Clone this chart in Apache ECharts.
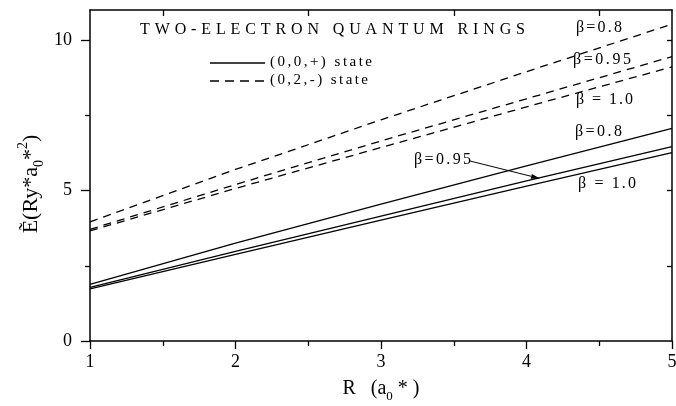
<!DOCTYPE html>
<html>
<head>
<meta charset="utf-8">
<script src="https://cdn.jsdelivr.net/npm/echarts@6/dist/echarts.min.js"></script>
<style>html,body{margin:0;padding:0;background:#fff;}#c{width:676px;height:406px;}</style>
</head>
<body>
<div id="c"></div>
<script>
const R = [1, 2, 3, 4, 5];
const solid08 = [1.88, 3.25, 4.55, 5.82, 7.07];
const solid095 = [1.78, 2.98, 4.15, 5.32, 6.46];
const solid10 = [1.73, 2.88, 4.02, 5.15, 6.26];
const dash08 = [3.96, 5.70, 7.35, 8.95, 10.53];
const dash095 = [3.71, 5.20, 6.65, 8.05, 9.45];
const dash10 = [3.66, 5.07, 6.43, 7.78, 9.11];
const yMajorTicks = [0, 5, 10];
const yMinorTicks = [2.5, 7.5];
const yRightTicks = [2.5, 5, 7.5, 10];
const xTopTicks = [1.5, 2.5, 3.5, 4.5];

const FONT = '"Liberation Serif", "Times New Roman", serif';
const mctx = document.createElement('canvas').getContext('2d');
function spaced(str, x0, x1, yc, size) {
  mctx.font = size + 'px ' + FONT;
  const chars = Array.from(str);
  const w = chars.map(c => mctx.measureText(c).width);
  const total = w.reduce((a, b) => a + b, 0);
  const ls = (x1 - x0 - total) / (chars.length - 1);
  let x = x0;
  return chars.map((c, i) => {
    const el = {type: 'text', x: x, y: yc, silent: true,
      style: {text: c, fontSize: size, fontFamily: FONT, fill: '#000', align: 'left', verticalAlign: 'middle'}};
    x += w[i] + ls;
    return el;
  });
}
const zip = (xs, ys) => xs.map((x, i) => [x, ys[i]]);

const axisLine = {show: true, onZero: false, lineStyle: {color: '#000', width: 1.5}};
const tickLine = {color: '#000', width: 1.3};

const mkSeries = (name, data, dashed) => ({
  name: name, type: 'line', data: zip(R, data), showSymbol: false, symbol: 'none',
  lineStyle: {color: '#000', width: 1.3, type: dashed ? [8, 6] : 'solid'},
  silent: true, animation: false
});

// arrow
const ax0 = 470, ay0 = 161, ax1 = 540, ay1 = 178.5;
const dx = ax1 - ax0, dy = ay1 - ay0, dl = Math.hypot(dx, dy);
const ux = dx / dl, uy = dy / dl;
const bx = ax1 - 9 * ux, by = ay1 - 9 * uy;

const graphics = [].concat(
  spaced('TWO-ELECTRON QUANTUM RINGS', 140, 525, 30, 16),
  [{type: 'line', shape: {x1: 210, y1: 63, x2: 265, y2: 63}, style: {stroke: '#000', lineWidth: 1.3}}],
  [{type: 'line', shape: {x1: 210, y1: 81, x2: 265, y2: 81}, style: {stroke: '#000', lineWidth: 1.3, lineDash: [9, 6]}}],
  spaced('(0,0,+) state', 270, 372, 62, 15),
  spaced('(0,2,-) state', 270, 368, 80, 15),
  spaced('β=0.8', 576, 622, 28, 16),
  spaced('β=0.95', 573, 631, 60, 16),
  spaced('β = 1.0', 576, 633, 100, 16),
  spaced('β=0.8', 575, 622, 132, 16),
  spaced('β=0.95', 414, 471, 160, 16),
  spaced('β = 1.0', 578, 636, 184, 16),
  [{type: 'line', shape: {x1: ax0, y1: ay0, x2: bx, y2: by}, style: {stroke: '#000', lineWidth: 1}},
   {type: 'polygon', shape: {points: [[ax1, ay1], [bx - 2.5 * uy, by + 2.5 * ux], [bx + 2.5 * uy, by - 2.5 * ux]]}, style: {fill: '#000'}}],
  [{type: 'text', x: 31, y: 184, rotation: Math.PI / 2, silent: true,
    style: {text: 'Ẽ(Ry*a{s|0}*{p|2})', fontSize: 22, fontFamily: FONT, fill: '#000', align: 'center', verticalAlign: 'middle',
      rich: {s: {fontSize: 14, fontFamily: FONT, fill: '#000', padding: [16, 0, 0, 0]},
             p: {fontSize: 14, fontFamily: FONT, fill: '#000', padding: [0, 0, 16, 0]}}}}]
);

const chart = echarts.init(document.getElementById('c'), null, {renderer: 'canvas'});
chart.setOption({
  animation: false,
  backgroundColor: '#fff',
  grid: {left: 90, right: 4, top: 10, bottom: 65, containLabel: false, outerBoundsMode: 'none'},
  xAxis: [
    {type: 'value', min: 1, max: 5, interval: 1, position: 'bottom',
     axisLine: axisLine,
     axisTick: {show: true, length: 8, lineStyle: tickLine},
     minorTick: {show: true, splitNumber: 2, length: 5, lineStyle: tickLine},
     axisLabel: {color: '#000', fontFamily: FONT, fontSize: 18, margin: 12},
     splitLine: {show: false}, minorSplitLine: {show: false},
     name: 'R   (a{s|0} * )', nameLocation: 'middle', nameGap: 33,
     nameTextStyle: {color: '#000', fontFamily: FONT, fontSize: 20,
       rich: {s: {fontSize: 13, fontFamily: FONT, color: '#000', padding: [16, 0, 0, 0]}}}},
    {type: 'value', min: 1, max: 5, interval: 1, position: 'top',
     axisLine: axisLine,
     axisTick: {show: true, inside: true, length: 6, customValues: xTopTicks, lineStyle: tickLine},
     axisLabel: {show: false}, splitLine: {show: false}}
  ],
  yAxis: [
    {type: 'value', min: 0, max: 11, position: 'left',
     axisLine: axisLine,
     axisTick: {show: true, length: 9, customValues: yMajorTicks, lineStyle: tickLine},
     axisLabel: {color: '#000', fontFamily: FONT, fontSize: 18, margin: 18, customValues: yMajorTicks},
     splitLine: {show: false}},
    {type: 'value', min: 0, max: 11, position: 'left',
     axisLine: {show: false},
     axisTick: {show: true, length: 5, customValues: yMinorTicks, lineStyle: tickLine},
     axisLabel: {show: false}, splitLine: {show: false}},
    {type: 'value', min: 0, max: 11, position: 'right',
     axisLine: axisLine,
     axisTick: {show: true, inside: true, length: 5, customValues: yRightTicks, lineStyle: tickLine},
     axisLabel: {show: false}, splitLine: {show: false}}
  ],
  series: [
    mkSeries('(0,0,+) β=0.8', solid08, false),
    mkSeries('(0,0,+) β=0.95', solid095, false),
    mkSeries('(0,0,+) β=1.0', solid10, false),
    mkSeries('(0,2,-) β=0.8', dash08, true),
    mkSeries('(0,2,-) β=0.95', dash095, true),
    mkSeries('(0,2,-) β=1.0', dash10, true)
  ],
  graphic: graphics
});
</script>
</body>
</html>
